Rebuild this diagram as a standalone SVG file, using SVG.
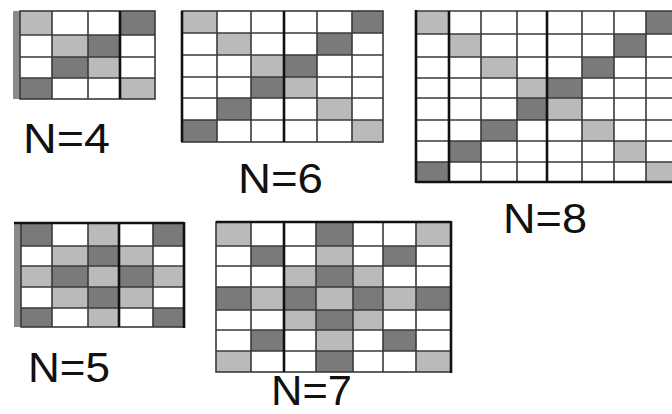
<svg xmlns="http://www.w3.org/2000/svg" width="672" height="414" viewBox="0 0 672 414">
<style>
.L{fill:#bababa}
.D{fill:#7a7a7a}
.bg{fill:#ffffff}
.ln{stroke:#3a3a3a;stroke-width:1.6;fill:none}
.tk{stroke:#111;stroke-width:2.6;fill:none}
.band{fill:#8a8a8a}
.lbl{font-family:"Liberation Sans",Arial,sans-serif;font-size:43px;fill:#111}
</style>
<rect width="672" height="414" fill="#ffffff"/>

<g id="grid4">
<rect class="bg" x="20" y="11" width="135" height="88"/>
<rect class="L" x="20" y="11" width="32" height="24"/>
<rect class="L" x="52" y="35" width="36" height="22"/>
<rect class="L" x="88" y="57" width="32" height="21"/>
<rect class="L" x="120" y="78" width="35" height="21"/>
<rect class="D" x="120" y="11" width="35" height="24"/>
<rect class="D" x="88" y="35" width="32" height="22"/>
<rect class="D" x="52" y="57" width="36" height="21"/>
<rect class="D" x="20" y="78" width="32" height="21"/>
<rect class="band" x="13" y="11" width="7" height="88"/>
<path class="ln" d="M52 11V99M88 11V99M20 35H155M20 57H155M20 78H155"/>
<rect class="ln" x="20" y="11" width="135" height="88"/>
<path class="tk" d="M120 11V99"/>
<text class="lbl" x="23" y="153" textLength="87" lengthAdjust="spacingAndGlyphs">N=4</text>
</g>

<g id="grid6">
<rect class="bg" x="182" y="11" width="201" height="131"/>
<rect class="L" x="182" y="11" width="35" height="22"/>
<rect class="L" x="217" y="33" width="34" height="22"/>
<rect class="L" x="251" y="55" width="33" height="22"/>
<rect class="L" x="284" y="77" width="33" height="21"/>
<rect class="L" x="317" y="98" width="35" height="22"/>
<rect class="L" x="352" y="120" width="31" height="22"/>
<rect class="D" x="352" y="11" width="31" height="22"/>
<rect class="D" x="317" y="33" width="35" height="22"/>
<rect class="D" x="284" y="55" width="33" height="22"/>
<rect class="D" x="251" y="77" width="33" height="21"/>
<rect class="D" x="217" y="98" width="34" height="22"/>
<rect class="D" x="182" y="120" width="35" height="22"/>
<path class="ln" d="M217 11V142M251 11V142M317 11V142M352 11V142M182 33H383M182 55H383M182 77H383M182 98H383M182 120H383"/>
<rect class="ln" x="182" y="11" width="201" height="131"/>
<path class="tk" d="M182 11V142M284 11V142"/>
<text class="lbl" x="238" y="193" textLength="85" lengthAdjust="spacingAndGlyphs">N=6</text>
</g>

<g id="grid8">
<rect class="bg" x="416" y="11" width="263" height="171"/>
<rect class="L" x="416" y="11" width="33" height="23"/>
<rect class="L" x="449" y="34" width="32" height="23"/>
<rect class="L" x="481" y="57" width="36" height="21"/>
<rect class="L" x="517" y="78" width="30" height="20"/>
<rect class="L" x="547" y="98" width="35" height="22"/>
<rect class="L" x="582" y="120" width="32" height="21"/>
<rect class="L" x="614" y="141" width="32" height="21"/>
<rect class="L" x="646" y="162" width="33" height="20"/>
<rect class="D" x="646" y="11" width="33" height="23"/>
<rect class="D" x="614" y="34" width="32" height="23"/>
<rect class="D" x="582" y="57" width="32" height="21"/>
<rect class="D" x="547" y="78" width="35" height="20"/>
<rect class="D" x="517" y="98" width="30" height="22"/>
<rect class="D" x="481" y="120" width="36" height="21"/>
<rect class="D" x="449" y="141" width="32" height="21"/>
<rect class="D" x="416" y="162" width="33" height="20"/>
<path class="ln" d="M481 11V182M517 11V182M582 11V182M614 11V182M646 11V182M416 34H679M416 57H679M416 78H679M416 98H679M416 120H679M416 141H679M416 162H679M416 11H679"/>
<path class="tk" d="M416 10V183M449 11V182M547 11V182M416 182H679"/>
<text class="lbl" x="503" y="233" textLength="84" lengthAdjust="spacingAndGlyphs">N=8</text>
</g>

<g id="grid5">
<rect class="bg" x="21" y="223" width="163" height="104"/>
<rect class="D" x="21" y="223" width="31" height="23"/>
<rect class="L" x="88" y="223" width="31" height="23"/>
<rect class="D" x="153" y="223" width="31" height="23"/>
<rect class="L" x="52" y="246" width="36" height="20"/>
<rect class="D" x="88" y="246" width="31" height="20"/>
<rect class="L" x="119" y="246" width="34" height="20"/>
<rect class="L" x="21" y="266" width="31" height="21"/>
<rect class="D" x="52" y="266" width="36" height="21"/>
<rect class="L" x="88" y="266" width="31" height="21"/>
<rect class="D" x="119" y="266" width="34" height="21"/>
<rect class="L" x="153" y="266" width="31" height="21"/>
<rect class="L" x="52" y="287" width="36" height="21"/>
<rect class="D" x="88" y="287" width="31" height="21"/>
<rect class="L" x="119" y="287" width="34" height="21"/>
<rect class="D" x="21" y="308" width="31" height="19"/>
<rect class="L" x="88" y="308" width="31" height="19"/>
<rect class="D" x="153" y="308" width="31" height="19"/>
<rect class="band" x="14" y="223" width="7" height="104"/>
<path class="ln" d="M52 223V327M88 223V327M153 223V327M21 246H184M21 266H184M21 287H184M21 308H184"/>
<rect class="ln" x="21" y="223" width="163" height="104"/>
<path class="tk" d="M119 223V327M184 222V328M14 223H184"/>
<text class="lbl" x="28" y="382" textLength="82" lengthAdjust="spacingAndGlyphs">N=5</text>
</g>

<g id="grid7">
<rect class="bg" x="216" y="222" width="235" height="150"/>
<rect class="L" x="216" y="222" width="35" height="24"/>
<rect class="D" x="316" y="222" width="37" height="24"/>
<rect class="L" x="416" y="222" width="35" height="24"/>
<rect class="D" x="251" y="246" width="33" height="20"/>
<rect class="L" x="316" y="246" width="37" height="20"/>
<rect class="D" x="383" y="246" width="33" height="20"/>
<rect class="L" x="284" y="266" width="32" height="21"/>
<rect class="D" x="316" y="266" width="37" height="21"/>
<rect class="L" x="353" y="266" width="30" height="21"/>
<rect class="D" x="216" y="287" width="35" height="23"/>
<rect class="L" x="251" y="287" width="33" height="23"/>
<rect class="D" x="284" y="287" width="32" height="23"/>
<rect class="L" x="316" y="287" width="37" height="23"/>
<rect class="D" x="353" y="287" width="30" height="23"/>
<rect class="L" x="383" y="287" width="33" height="23"/>
<rect class="D" x="416" y="287" width="35" height="23"/>
<rect class="L" x="284" y="310" width="32" height="20"/>
<rect class="D" x="316" y="310" width="37" height="20"/>
<rect class="L" x="353" y="310" width="30" height="20"/>
<rect class="D" x="251" y="330" width="33" height="21"/>
<rect class="L" x="316" y="330" width="37" height="21"/>
<rect class="D" x="383" y="330" width="33" height="21"/>
<rect class="L" x="216" y="351" width="35" height="21"/>
<rect class="D" x="316" y="351" width="37" height="21"/>
<rect class="L" x="416" y="351" width="35" height="21"/>
<path class="ln" d="M251 222V372M316 222V372M353 222V372M383 222V372M416 222V372M216 246H451M216 266H451M216 287H451M216 310H451M216 330H451M216 351H451"/>
<rect class="ln" x="216" y="222" width="235" height="150"/>
<path class="tk" d="M284 222V372M451 221V373M216 222H451"/>
<text class="lbl" x="271" y="405" font-size="40" textLength="81" lengthAdjust="spacingAndGlyphs">N=7</text>
</g>
</svg>
